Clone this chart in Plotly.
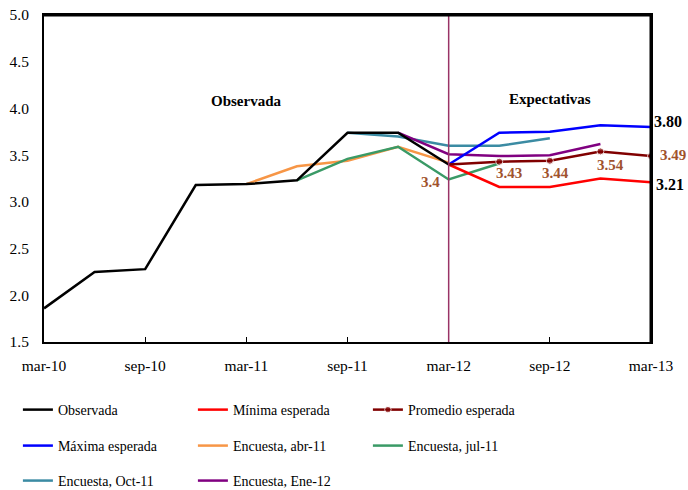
import plotly.graph_objects as go

categorias = ["mar-10", "jun-10", "sep-10", "dic-10", "mar-11", "jun-11", "sep-11",
              "dic-11", "mar-12", "jun-12", "sep-12", "dic-12", "mar-13"]
tick_vals = ["mar-10", "sep-10", "mar-11", "sep-11", "mar-12", "sep-12", "mar-13"]
y_ticks = [1.5, 2.0, 2.5, 3.0, 3.5, 4.0, 4.5, 5.0]
N = None
observada = [1.86, 2.25, 2.28, 3.18, 3.19, 3.23, 3.74, 3.74, 3.40, N, N, N, N]
minima = [N, N, N, N, N, N, N, N, 3.40, 3.16, 3.16, 3.25, 3.21]
promedio = [N, N, N, N, N, N, N, N, 3.40, 3.43, 3.44, 3.54, 3.49]
maxima = [N, N, N, N, N, N, N, N, 3.40, 3.74, 3.75, 3.82, 3.80]
enc_abr11 = [N, N, N, N, 3.19, 3.38, 3.44, 3.59, 3.42, N, N, N, N]
enc_jul11 = [N, N, N, N, N, 3.23, 3.46, 3.59, 3.24, 3.41, N, N, N]
enc_oct11 = [N, N, N, N, N, N, 3.74, 3.70, 3.60, 3.60, 3.68, N, N]
enc_ene12 = [N, N, N, N, N, N, N, 3.74, 3.51, 3.49, 3.50, 3.62, N]

FONT = "Liberation Serif, Times New Roman, serif"
LW = 2.5

fig = go.Figure()

def add(y, name, color, legend, rank, **kw):
    fig.add_trace(go.Scatter(x=categorias, y=y, name=name, mode=kw.pop("mode", "lines"),
                             line=dict(color=color, width=LW), legend=legend,
                             legendrank=rank, connectgaps=False, **kw))

add(enc_abr11, "Encuesta, abr-11", "#F79646", "legend2", 5)
add(enc_jul11, "Encuesta, jul-11", "#3A9A66", "legend2", 6)
add(enc_oct11, "Encuesta, Oct-11", "#3B8BA3", "legend3", 7)
add(enc_ene12, "Encuesta, Ene-12", "#800080", "legend3", 8)
add(observada, "Observada", "#000000", "legend", 1)
add(minima, "Mínima esperada", "#FF0000", "legend", 2)
add(maxima, "Máxima esperada", "#0000FF", "legend2", 4)
add(promedio, "Promedio esperada", "#800000", "legend", 3, mode="lines+markers",
    marker=dict(size=[0 if i == 8 else 7 for i in range(len(categorias))], color="#800000"))

# value annotations
LBL = "#A0522D"
pshift = {9: (10, -11), 10: (6, -12), 11: (10, -14)}
for i, v in enumerate(promedio):
    if v is None:
        continue
    if i == 8:
        fig.add_annotation(x=categorias[i], y=v, text=f"{v:g}", showarrow=False,
                           xshift=-18, yshift=-18,
                           font=dict(family=FONT, size=15, color=LBL, weight="bold"))
    elif i == 12:
        fig.add_annotation(x=categorias[i], y=v, text=f"{v:.2f}", showarrow=False,
                           xanchor="left", xshift=7, yshift=1,
                           font=dict(family=FONT, size=15, color=LBL, weight="bold"))
    else:
        dx, dy = pshift[i]
        fig.add_annotation(x=categorias[i], y=v, text=f"{v:.2f}", showarrow=False,
                           xshift=dx, yshift=dy,
                           font=dict(family=FONT, size=15, color=LBL, weight="bold"))

fig.add_annotation(x=categorias[-1], y=maxima[-1], text=f"{maxima[-1]:.2f}", showarrow=False,
                   xanchor="left", xshift=1, yshift=6,
                   font=dict(family=FONT, size=16, color="#000000", weight="bold"))
fig.add_annotation(x=categorias[-1], y=minima[-1], text=f"{minima[-1]:.2f}", showarrow=False,
                   xanchor="left", xshift=3, yshift=-2,
                   font=dict(family=FONT, size=16, color="#000000", weight="bold"))

fig.add_annotation(x="mar-11", y=4.08, text="Observada", showarrow=False,
                   font=dict(family=FONT, size=15, color="#000000", weight="bold"))
fig.add_annotation(x="sep-12", y=4.10, text="Expectativas", showarrow=False,
                   font=dict(family=FONT, size=15, color="#000000", weight="bold"))

# vertical separator at mar-12
fig.add_shape(type="line", xref="x", yref="paper", x0="mar-12", x1="mar-12", y0=0, y1=1,
              line=dict(color="#993366", width=1.5), layer="above")
# top and right frame lines (axis-referenced so they render like the separator)
fig.add_shape(type="line", xref="x", yref="y", x0=categorias[0], x1=categorias[-1],
              y0=y_ticks[-1], y1=y_ticks[-1], line=dict(color="#000000", width=3),
              layer="above")
fig.add_shape(type="line", xref="x", yref="paper", x0=categorias[-1], x1=categorias[-1],
              y0=0, y1=1, line=dict(color="#000000", width=3), layer="above")

leg_common = dict(orientation="h", x=-0.043, xanchor="left", yanchor="middle",
                  entrywidth=130, entrywidthmode="pixels", itemwidth=30,
                  font=dict(family=FONT, size=14, color="#000000"),
                  bgcolor="rgba(0,0,0,0)", tracegroupgap=0)

fig.update_layout(
    width=688, height=490,
    margin=dict(l=44, r=37, t=15, b=148, autoexpand=False),
    paper_bgcolor="white", plot_bgcolor="white",
    font=dict(family=FONT, size=14, color="#000000"),
    showlegend=True,
    legend=dict(y=-0.208, **leg_common),
    legend2=dict(y=-0.318, **leg_common),
    legend3=dict(y=-0.425, **leg_common),
    xaxis=dict(type="category", categoryorder="array", categoryarray=categorias,
               range=[0, len(categorias) - 1], tickmode="array", tickvals=tick_vals,
               ticktext=tick_vals, ticks="inside", ticklen=5, tickcolor="#000000",
               showline=True, linecolor="#000000", linewidth=2, mirror=True,
               showgrid=False, zeroline=False, ticklabelstandoff=8,
               ticklabeloverflow="allow",
               tickfont=dict(family=FONT, size=15.5, color="#000000")),
    yaxis=dict(range=[y_ticks[0], y_ticks[-1]], tickmode="array",
               tickvals=y_ticks, ticktext=[f"{t:.1f}" for t in y_ticks],
               ticks="", showline=True, linecolor="#000000", linewidth=2, mirror=True,
               showgrid=False, zeroline=False, ticklabelstandoff=10,
               ticklabeloverflow="allow",
               tickfont=dict(family=FONT, size=15.5, color="#000000")),
)

# remove the default 8px page margin so the 688x490 figure fills the window exactly
fig.write_html("out.html", config={"displayModeBar": False},
               post_script="document.body.style.margin='0';document.body.style.overflow='hidden';")
